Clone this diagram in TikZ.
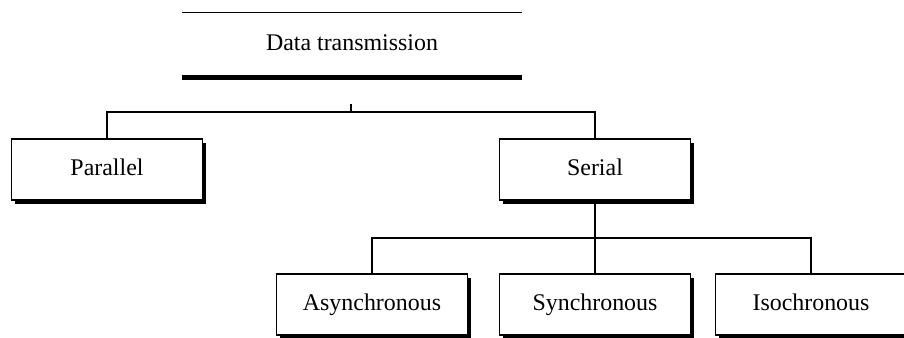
\documentclass[tikz,border=0pt]{standalone}
\usepackage{fontspec}
\setmainfont{Liberation Serif}
\usetikzlibrary{shadows}
\begin{document}
\begin{tikzpicture}
[x=1bp,y=-1bp,line width=1.3bp,
 every node/.style={font=\fontsize{24}{27}\selectfont, text height=1.2em, text depth=0pt},
 box/.style={draw=black, fill=white, minimum width=191bp, minimum height=61bp, inner sep=0pt,
   drop shadow={shadow xshift=3.5bp, shadow yshift=-3.5bp, fill=black, opacity=1}}]
\useasboundingbox (0,0) rectangle (904,337);
\clip (0,0) rectangle (904,337);
% title with its two rules
\node[minimum width=338bp, minimum height=64bp, inner sep=0pt] (title) at (352,45) {Data transmission};
\draw (title.north west) -- (title.north east);
\draw[line width=5bp] (title.south west) -- (title.south east);
% first level
\node[box] (par) at (107,169.5) {Parallel};
\node[box] (ser) at (595,169.5) {Serial};
% second level
\node[box] (asy) at (372,304.5) {Asynchronous};
\node[box] (syn) at (595,304.5) {Synchronous};
\node[box] (iso) at (811,304.5) {Isochronous};
\coordinate (tick) at (351,104);
\coordinate (bar1) at (351,112);
\coordinate (bar2) at (595,238);
\draw (tick) -- (bar1);
\draw (par.north) |- (bar1) -| (ser.north);
\draw (ser.south) -- (bar2);
\draw (asy.north) |- (bar2) -| (iso.north);
\draw (bar2) -- (syn.north);
\end{tikzpicture}
\end{document}
